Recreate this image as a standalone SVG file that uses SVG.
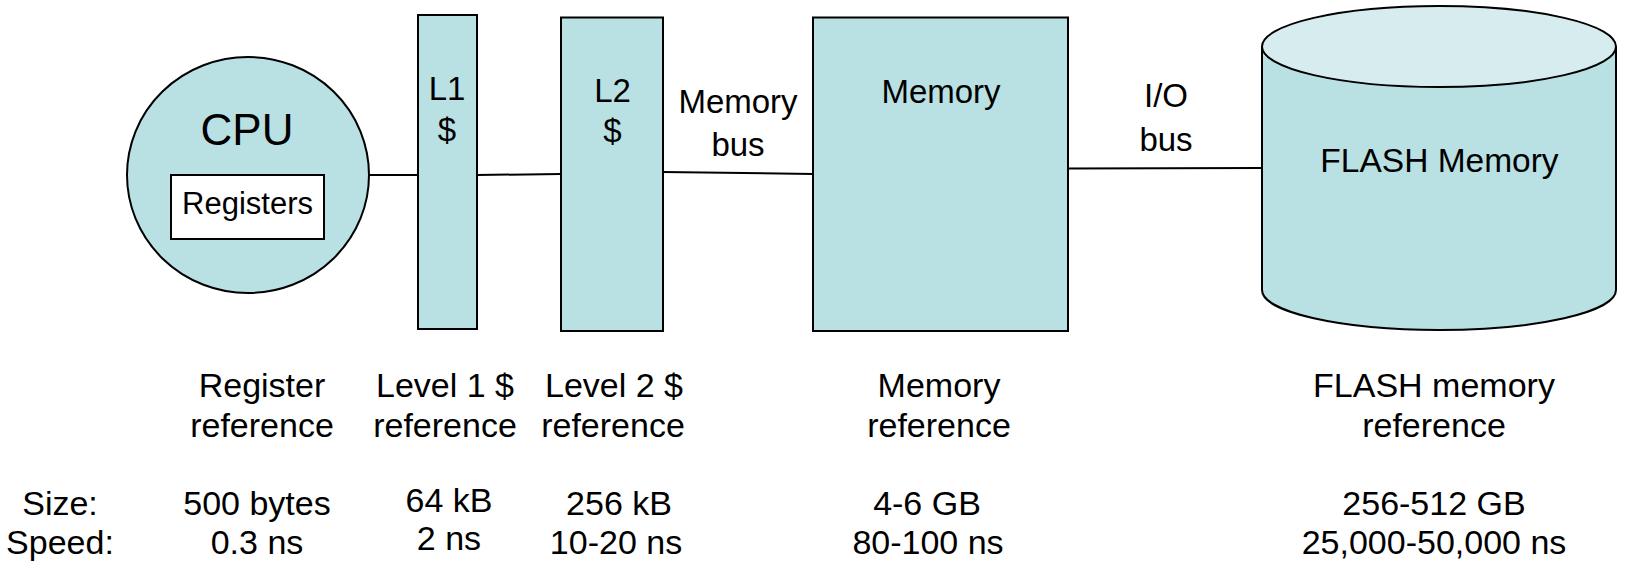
<svg xmlns="http://www.w3.org/2000/svg" width="1627" height="573" viewBox="0 0 1627 573">
<style>
.sh{fill:#b9e0e3;stroke:#000;stroke-width:2}
.t{font-family:"Liberation Sans",Arial,sans-serif;fill:#000;text-anchor:middle}
.b{font-size:34px}
.c{stroke:#000;stroke-width:2;fill:none}
</style>
<rect width="1627" height="573" fill="#fff"/>
<g id="connectors">
<line class="c" x1="369" y1="175" x2="418" y2="175"/>
<line class="c" x1="477" y1="175" x2="561" y2="174"/>
<line class="c" x1="663" y1="172" x2="813" y2="174"/>
<line class="c" x1="1068" y1="168.5" x2="1262" y2="168"/>
</g>
<g id="cpu">
<ellipse class="sh" cx="248" cy="175" rx="121" ry="118"/>
<text class="t" x="247" y="145" font-size="44">CPU</text>
<rect x="171" y="175" width="153" height="64" fill="#fff" stroke="#000" stroke-width="2"/>
<text class="t" x="247.5" y="214" font-size="31">Registers</text>
</g>
<g id="l1">
<rect class="sh" x="418" y="15" width="59" height="314"/>
<text class="t" x="447" y="100" font-size="33">L1</text>
<text class="t" x="447" y="141" font-size="33">$</text>
</g>
<g id="l2">
<rect class="sh" x="561" y="17.5" width="102" height="313.5"/>
<text class="t" x="612.5" y="102" font-size="33">L2</text>
<text class="t" x="612.5" y="142" font-size="33">$</text>
</g>
<g id="membus">
<text class="t" x="738" y="113" font-size="33">Memory</text>
<text class="t" x="738" y="156" font-size="33">bus</text>
</g>
<g id="memory">
<rect class="sh" x="813" y="17.5" width="255" height="313.5"/>
<text class="t" x="941" y="103" font-size="33">Memory</text>
</g>
<g id="iobus">
<text class="t" x="1166" y="107" font-size="33">I/O</text>
<text class="t" x="1166" y="151" font-size="33">bus</text>
</g>
<g id="flash">
<path class="sh" d="M1262,46.5 V290 A177,40 0 0 0 1616,290 V46.5"/>
<ellipse cx="1439" cy="46.5" rx="177" ry="40.5" fill="#d6ecef" stroke="#000" stroke-width="2"/>
<text class="t" x="1439.5" y="171.5" font-size="33.5">FLASH Memory</text>
</g>
<g id="labels">
<text class="t b" x="60" y="515">Size:</text>
<text class="t b" x="60" y="554">Speed:</text>
<text class="t b" x="262" y="397">Register</text>
<text class="t b" x="262" y="437">reference</text>
<text class="t b" x="257" y="515">500 bytes</text>
<text class="t b" x="257" y="554">0.3 ns</text>
<text class="t b" x="445" y="397">Level 1 $</text>
<text class="t b" x="445" y="437">reference</text>
<text class="t b" x="449" y="512">64 kB</text>
<text class="t b" x="449" y="550">2 ns</text>
<text class="t b" x="614" y="397">Level 2 $</text>
<text class="t b" x="613" y="437">reference</text>
<text class="t b" x="619" y="515">256 kB</text>
<text class="t b" x="616" y="554">10-20 ns</text>
<text class="t b" x="939" y="397">Memory</text>
<text class="t b" x="939" y="437">reference</text>
<text class="t b" x="927" y="515">4-6 GB</text>
<text class="t b" x="928" y="554">80-100 ns</text>
<text class="t b" x="1434" y="397">FLASH memory</text>
<text class="t b" x="1434" y="437">reference</text>
<text class="t b" x="1434" y="515">256-512 GB</text>
<text class="t b" x="1434" y="554">25,000-50,000 ns</text>
</g>
</svg>
